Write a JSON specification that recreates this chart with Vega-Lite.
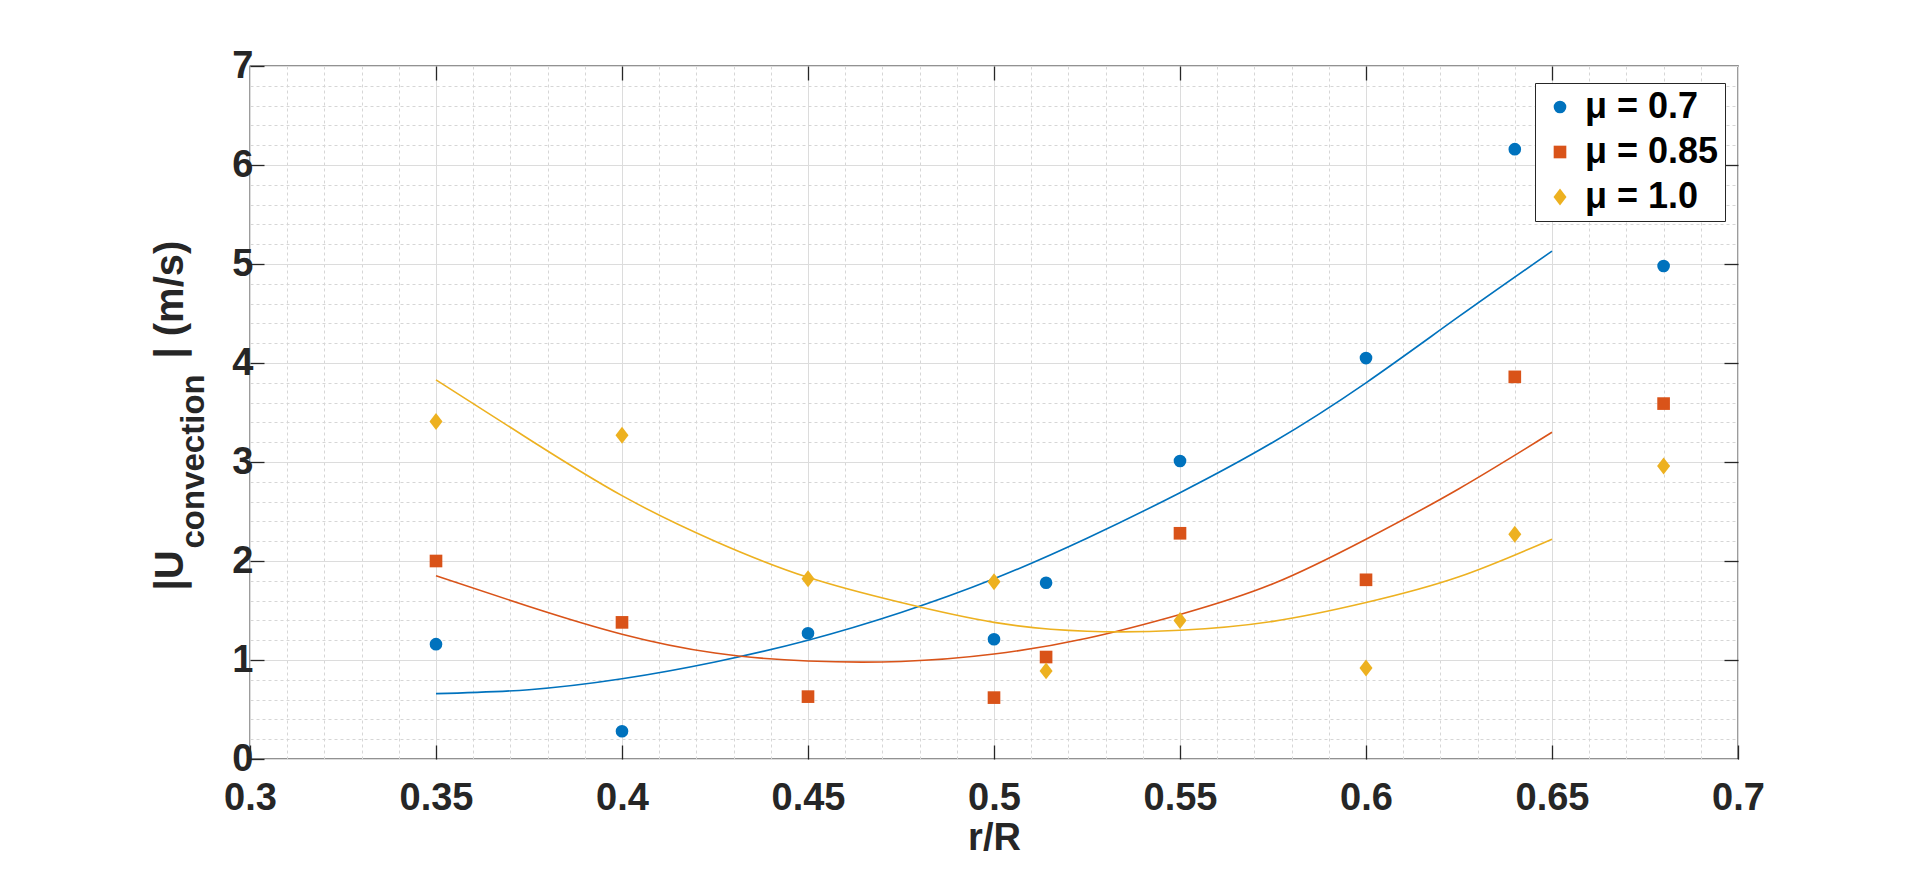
{
  "$schema": "https://vega.github.io/schema/vega-lite/v6.json",
  "description": "Convection speed against r/R for three friction coefficients, with fitted curves",
  "autosize": {"type": "none"},
  "width": 1488,
  "height": 693,
  "padding": {"left": 250, "top": 66, "right": 182, "bottom": 120},
  "background": "white",
  "view": {"stroke": "#262626", "strokeWidth": 1.3},
  "config": {
    "font": "Liberation Sans",
    "axis": {"labelFont": "Liberation Sans", "titleFont": "Liberation Sans", "labelColor": "#262626", "titleColor": "#262626"}
  },
  "datasets": {
    "points": [
      {"x": 0.35, "u": 1.16, "mu": "μ = 0.7"},
      {"x": 0.4, "u": 0.28, "mu": "μ = 0.7"},
      {"x": 0.45, "u": 1.27, "mu": "μ = 0.7"},
      {"x": 0.5, "u": 1.21, "mu": "μ = 0.7"},
      {"x": 0.514, "u": 1.78, "mu": "μ = 0.7"},
      {"x": 0.55, "u": 3.01, "mu": "μ = 0.7"},
      {"x": 0.6, "u": 4.05, "mu": "μ = 0.7"},
      {"x": 0.64, "u": 6.16, "mu": "μ = 0.7"},
      {"x": 0.68, "u": 4.98, "mu": "μ = 0.7"},
      {"x": 0.35, "u": 2.0, "mu": "μ = 0.85"},
      {"x": 0.4, "u": 1.38, "mu": "μ = 0.85"},
      {"x": 0.45, "u": 0.63, "mu": "μ = 0.85"},
      {"x": 0.5, "u": 0.62, "mu": "μ = 0.85"},
      {"x": 0.514, "u": 1.03, "mu": "μ = 0.85"},
      {"x": 0.55, "u": 2.28, "mu": "μ = 0.85"},
      {"x": 0.6, "u": 1.81, "mu": "μ = 0.85"},
      {"x": 0.64, "u": 3.86, "mu": "μ = 0.85"},
      {"x": 0.68, "u": 3.59, "mu": "μ = 0.85"},
      {"x": 0.35, "u": 3.41, "mu": "μ = 1.0"},
      {"x": 0.4, "u": 3.27, "mu": "μ = 1.0"},
      {"x": 0.45, "u": 1.82, "mu": "μ = 1.0"},
      {"x": 0.5, "u": 1.79, "mu": "μ = 1.0"},
      {"x": 0.514, "u": 0.89, "mu": "μ = 1.0"},
      {"x": 0.55, "u": 1.4, "mu": "μ = 1.0"},
      {"x": 0.6, "u": 0.92, "mu": "μ = 1.0"},
      {"x": 0.64, "u": 2.27, "mu": "μ = 1.0"},
      {"x": 0.68, "u": 2.96, "mu": "μ = 1.0"}
    ],
    "curves": [
      {"x": 0.35, "u": 0.66, "mu": "μ = 0.7"},
      {"x": 0.375, "u": 0.7, "mu": "μ = 0.7"},
      {"x": 0.4, "u": 0.81, "mu": "μ = 0.7"},
      {"x": 0.425, "u": 0.98, "mu": "μ = 0.7"},
      {"x": 0.45, "u": 1.2, "mu": "μ = 0.7"},
      {"x": 0.475, "u": 1.48, "mu": "μ = 0.7"},
      {"x": 0.5, "u": 1.82, "mu": "μ = 0.7"},
      {"x": 0.525, "u": 2.23, "mu": "μ = 0.7"},
      {"x": 0.55, "u": 2.69, "mu": "μ = 0.7"},
      {"x": 0.575, "u": 3.2, "mu": "μ = 0.7"},
      {"x": 0.6, "u": 3.8, "mu": "μ = 0.7"},
      {"x": 0.625, "u": 4.47, "mu": "μ = 0.7"},
      {"x": 0.65, "u": 5.13, "mu": "μ = 0.7"},
      {"x": 0.35, "u": 1.85, "mu": "μ = 0.85"},
      {"x": 0.375, "u": 1.54, "mu": "μ = 0.85"},
      {"x": 0.4, "u": 1.26, "mu": "μ = 0.85"},
      {"x": 0.425, "u": 1.07, "mu": "μ = 0.85"},
      {"x": 0.45, "u": 0.99, "mu": "μ = 0.85"},
      {"x": 0.475, "u": 0.985, "mu": "μ = 0.85"},
      {"x": 0.5, "u": 1.06, "mu": "μ = 0.85"},
      {"x": 0.525, "u": 1.22, "mu": "μ = 0.85"},
      {"x": 0.55, "u": 1.46, "mu": "μ = 0.85"},
      {"x": 0.575, "u": 1.77, "mu": "μ = 0.85"},
      {"x": 0.6, "u": 2.22, "mu": "μ = 0.85"},
      {"x": 0.625, "u": 2.73, "mu": "μ = 0.85"},
      {"x": 0.65, "u": 3.3, "mu": "μ = 0.85"},
      {"x": 0.35, "u": 3.83, "mu": "μ = 1.0"},
      {"x": 0.375, "u": 3.23, "mu": "μ = 1.0"},
      {"x": 0.4, "u": 2.66, "mu": "μ = 1.0"},
      {"x": 0.425, "u": 2.2, "mu": "μ = 1.0"},
      {"x": 0.45, "u": 1.835, "mu": "μ = 1.0"},
      {"x": 0.475, "u": 1.58, "mu": "μ = 1.0"},
      {"x": 0.5, "u": 1.38, "mu": "μ = 1.0"},
      {"x": 0.525, "u": 1.29, "mu": "μ = 1.0"},
      {"x": 0.55, "u": 1.3, "mu": "μ = 1.0"},
      {"x": 0.575, "u": 1.39, "mu": "μ = 1.0"},
      {"x": 0.6, "u": 1.58, "mu": "μ = 1.0"},
      {"x": 0.625, "u": 1.84, "mu": "μ = 1.0"},
      {"x": 0.65, "u": 2.22, "mu": "μ = 1.0"}
    ]
  },
  "resolve": {"axis": {"x": "independent", "y": "independent"}},
  "layer": [
    {
      "data": {"name": "curves"},
      "mark": {"type": "line", "strokeWidth": 1.6, "interpolate": "natural"},
      "encoding": {
        "x": {
          "field": "x", "type": "quantitative",
          "scale": {"domain": [0.3, 0.7], "nice": false, "zero": false},
          "axis": {
            "orient": "bottom",
            "values": [0.31, 0.32, 0.33, 0.34, 0.36, 0.37, 0.38, 0.39, 0.41, 0.42, 0.43, 0.44, 0.46, 0.47, 0.48, 0.49, 0.51, 0.52, 0.53, 0.54, 0.56, 0.57, 0.58, 0.59, 0.61, 0.62, 0.63, 0.64, 0.66, 0.67, 0.68, 0.69],
            "grid": true, "gridColor": "#d6d6d6", "gridDash": [3, 3], "gridWidth": 1,
            "labels": false, "ticks": false, "domain": false, "title": null
          }
        },
        "y": {
          "field": "u", "type": "quantitative",
          "scale": {"domain": [0, 7], "nice": false, "zero": true},
          "axis": {
            "orient": "left",
            "values": [0.2, 0.4, 0.6, 0.8, 1.2, 1.4, 1.6, 1.8, 2.2, 2.4, 2.6, 2.8, 3.2, 3.4, 3.6, 3.8, 4.2, 4.4, 4.6, 4.8, 5.2, 5.4, 5.6, 5.8, 6.2, 6.4, 6.6, 6.8],
            "grid": true, "gridColor": "#d6d6d6", "gridDash": [3, 3], "gridWidth": 1,
            "labels": false, "ticks": false, "domain": false,
            "title": "|U",
            "titleFontSize": 40, "titleFontWeight": "bold",
            "titleAngle": 270, "titleAlign": "left", "titleBaseline": "alphabetic",
            "titleX": -68, "titleY": 524
          }
        },
        "stroke": {
          "field": "mu", "type": "nominal",
          "scale": {"range": ["#0072BD", "#D95319", "#EDB120"]},
          "legend": null
        }
      }
    },
    {
      "data": {"name": "points"},
      "mark": {"type": "point", "filled": true, "opacity": 1, "strokeWidth": 0, "size": 160},
      "encoding": {
        "x": {
          "field": "x", "type": "quantitative",
          "axis": {
            "orient": "bottom",
            "values": [0.3, 0.35, 0.4, 0.45, 0.5, 0.55, 0.6, 0.65, 0.7],
            "format": "~g",
            "grid": true, "gridColor": "#dcdcdc", "gridWidth": 1,
            "domain": false,
            "ticks": true, "tickSize": -14, "tickColor": "#262626", "tickWidth": 1.3,
            "labelFontSize": 38, "labelFontWeight": "bold", "labelPadding": 34,
            "labelFlush": false, "labelOverlap": false, "labelBound": false,
            "title": "r/R", "titleFontSize": 38, "titleFontWeight": "bold",
            "titleBaseline": "alphabetic", "titleY": 90
          }
        },
        "y": {
          "field": "u", "type": "quantitative",
          "axis": {
            "orient": "left",
            "values": [0, 1, 2, 3, 4, 5, 6, 7],
            "format": "d",
            "grid": true, "gridColor": "#dcdcdc", "gridWidth": 1,
            "domain": false,
            "ticks": true, "tickSize": -14, "tickColor": "#262626", "tickWidth": 1.3,
            "labelFontSize": 38, "labelFontWeight": "bold", "labelPadding": 11,
            "labelFlush": false, "labelOverlap": false, "labelBound": false,
            "title": "convection", "titleFontSize": 33, "titleFontWeight": "bold",
            "titleAngle": 270, "titleAlign": "left", "titleBaseline": "alphabetic",
            "titleX": -47, "titleY": 482
          }
        },
        "color": {
          "field": "mu", "type": "nominal",
          "scale": {"domain": ["μ = 0.7", "μ = 0.85", "μ = 1.0"], "range": ["#0072BD", "#D95319", "#EDB120"]},
          "legend": {
            "orient": "none", "legendX": 1285, "legendY": 17,
            "title": null,
            "strokeColor": "#262626", "fillColor": "white",
            "padding": 6, "rowPadding": 9,
            "symbolOffset": 1, "labelOffset": 7, "symbolSize": 160,
            "labelFont": "Liberation Sans", "labelFontSize": 36, "labelFontWeight": "bold", "labelColor": "black",
            "symbolStrokeWidth": 0, "symbolOpacity": 1
          }
        },
        "shape": {
          "field": "mu", "type": "nominal",
          "scale": {"domain": ["μ = 0.7", "μ = 0.85", "μ = 1.0"], "range": ["circle", "square", "M0,-1.34L1.03,0L0,1.34L-1.03,0Z"]}
        }
      }
    },
    {
      "data": {"name": "points"},
      "mark": {"type": "point", "opacity": 0},
      "encoding": {
        "x": {
          "field": "x", "type": "quantitative",
          "axis": {
            "orient": "top",
            "values": [0.35, 0.4, 0.45, 0.5, 0.55, 0.6, 0.65],
            "grid": false, "domain": false, "labels": false,
            "ticks": true, "tickSize": -14, "tickColor": "#262626", "tickWidth": 1.3,
            "title": null
          }
        },
        "y": {
          "field": "u", "type": "quantitative",
          "axis": {
            "orient": "right",
            "values": [1, 2, 3, 4, 5, 6],
            "grid": false, "domain": false, "labels": false,
            "ticks": true, "tickSize": -14, "tickColor": "#262626", "tickWidth": 1.3,
            "title": null
          }
        }
      }
    },
    {
      "data": {"name": "points"},
      "mark": {"type": "point", "opacity": 0},
      "encoding": {
        "x": {"field": "x", "type": "quantitative", "axis": null},
        "y": {
          "field": "u", "type": "quantitative",
          "axis": {
            "orient": "left",
            "values": [0],
            "grid": false, "domain": false, "labels": false, "ticks": false,
            "title": "| (m/s)",
            "titleFontSize": 40, "titleFontWeight": "bold",
            "titleAngle": 270, "titleAlign": "left", "titleBaseline": "alphabetic",
            "titleX": -68, "titleY": 292
          }
        }
      }
    }
  ]
}
